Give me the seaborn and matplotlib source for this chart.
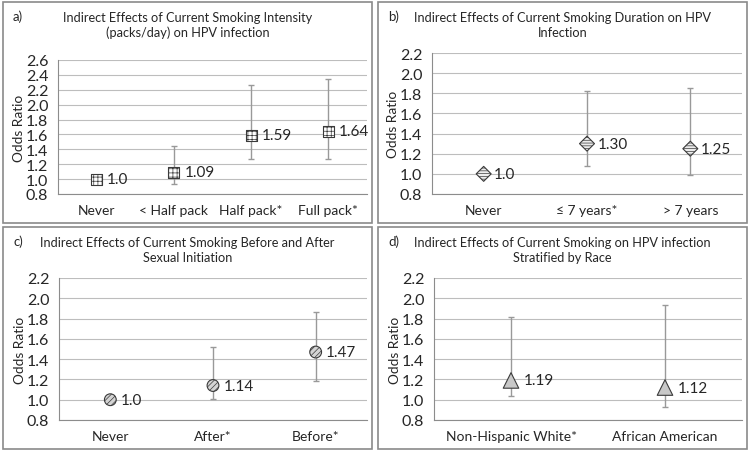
import numpy as np
import pandas as pd
import matplotlib
matplotlib.use("Agg")
import matplotlib.pyplot as plt
from matplotlib.patches import Rectangle
import seaborn as sns

# --- data ---
a_cats = ["Never", "< Half pack", "Half pack*", "Full pack*"]
a_or = [1.0, 1.09, 1.59, 1.64]
a_lo = [np.nan, 0.94, 1.27, 1.27]
a_hi = [np.nan, 1.45, 2.27, 2.34]
a_lbl = ["1.0", "1.09", "1.59", "1.64"]

b_cats = ["Never", "\u2264 7 years*", "> 7 years"]
b_or = [1.0, 1.30, 1.25]
b_lo = [np.nan, 1.08, 0.99]
b_hi = [np.nan, 1.82, 1.85]
b_lbl = ["1.0", "1.30", "1.25"]

c_cats = ["Never", "After*", "Before*"]
c_or = [1.0, 1.14, 1.47]
c_lo = [np.nan, 1.01, 1.18]
c_hi = [np.nan, 1.52, 1.86]
c_lbl = ["1.0", "1.14", "1.47"]

d_cats = ["Non-Hispanic White*", "African American"]
d_or = [1.19, 1.12]
d_lo = [1.04, 0.93]
d_hi = [1.82, 1.93]
d_lbl = ["1.19", "1.12"]

sns.set_theme(style="white")
plt.rcParams["font.family"] = ["Lato", "DejaVu Sans"]
plt.rcParams["hatch.linewidth"] = 0.5

W, H = 750, 452
fig = plt.figure(figsize=(7.5, 4.52), dpi=100)


def px(x, y):
    return x / W, 1 - y / H


def panel(box, axbox, ymax, letter, title, cats, odds, lo, hi, lbl, mk):
    # box / axbox in pixels: left, top, right, bottom
    l, t, r, b = box
    fig.add_artist(Rectangle(px(l, b), (r - l) / W, (b - t) / H, transform=fig.transFigure,
                             fill=False, edgecolor="#8a8a8a", lw=1.2))
    fig.text(*px(l + 10, t + 14), letter, fontsize=9.5, va="center", ha="left")
    fig.text(*px((l + r) / 2, t + 22.5), title, fontsize=9.2, va="center", ha="center",
             linespacing=1.3)
    al, at, ar, ab = axbox
    ax = fig.add_axes([al / W, 1 - ab / H, (ar - al) / W, (ab - at) / H])
    fig.text(*px(al - 39, (at + ab) / 2), "Odds Ratio", rotation=90, fontsize=9.8,
             va="center", ha="center")

    n = len(cats)
    df = pd.DataFrame({"pos": np.arange(n), "odds": odds, "lo": lo, "hi": hi})
    ci = df.dropna()
    ax.errorbar(ci["pos"], ci["odds"], yerr=[ci["odds"] - ci["lo"], ci["hi"] - ci["odds"]],
                fmt="none", ecolor="#999999", elinewidth=1, capsize=2.2, capthick=1, zorder=2)
    sns.scatterplot(data=df, x="pos", y="odds", ax=ax, marker=mk["marker"], s=mk["s"],
                    color=mk["face"], edgecolor="#3a3a3a", linewidth=0.8, zorder=3, legend=False)
    ax.collections[-1].set_hatch(mk["hatch"])
    for i, txt in enumerate(lbl):
        ax.annotate(txt, (i, odds[i]), xytext=(mk["dx"], 0), textcoords="offset points",
                    fontsize=11, va="center", ha="left")

    ax.set_xlim(-0.5, n - 0.5)
    ax.set_ylim(0.8, ymax)
    ax.set_yticks(np.round(np.arange(0.8, ymax + 0.01, 0.2), 1))
    ax.set_yticklabels([f"{v:.1f}" for v in np.arange(0.8, ymax + 0.01, 0.2)], fontsize=11.5)
    ax.set_xticks(np.arange(n))
    ax.set_xticklabels(cats, fontsize=10)
    ax.set_xticks(np.arange(n + 1) - 0.5, minor=True)
    ax.tick_params(axis="x", which="major", length=0, pad=7)
    ax.tick_params(axis="x", which="minor", length=5, color="#8c8c8c", width=0.8)
    ax.tick_params(axis="y", length=5, color="#8c8c8c", width=0.8, pad=2)
    ax.set_xlabel("")
    ax.set_ylabel("")
    ax.yaxis.grid(True, color="#bdbdbd", lw=0.8)
    ax.set_axisbelow(True)
    for s in ["top", "right"]:
        ax.spines[s].set_visible(False)
    for s in ["left", "bottom"]:
        ax.spines[s].set_color("#8c8c8c")
        ax.spines[s].set_linewidth(0.8)
    ax.set_facecolor("none")
    return ax


panel((3, 3, 372, 224), (58, 61, 367, 195), 2.6, "a)",
      "Indirect Effects of Current Smoking Intensity\n(packs/day) on HPV infection",
      a_cats, a_or, a_lo, a_hi, a_lbl,
      dict(marker="s", s=64, face="white", hatch="++++", dx=7.5))
panel((378, 3, 747, 224), (432, 54, 742, 195), 2.2, "b)",
      "Indirect Effects of Current Smoking Duration on HPV\nInfection",
      b_cats, b_or, b_lo, b_hi, b_lbl,
      dict(marker="D", s=58, face="#ececec", hatch="------", dx=7.5))
panel((3, 228, 372, 450), (59, 279, 367, 421), 2.2, "c)",
      "Indirect Effects of Current Smoking Before and After\nSexual Initiation",
      c_cats, c_or, c_lo, c_hi, c_lbl,
      dict(marker="o", s=72, face="#d4d4d4", hatch="//////", dx=7.5))
panel((378, 228, 747, 450), (434, 279, 742, 421), 2.2, "d)",
      "Indirect Effects of Current Smoking on HPV infection\nStratified by Race",
      d_cats, d_or, d_lo, d_hi, d_lbl,
      dict(marker="^", s=125, face="#c8c8c8", hatch="", dx=9))

fig.savefig("out.png", dpi=100)
